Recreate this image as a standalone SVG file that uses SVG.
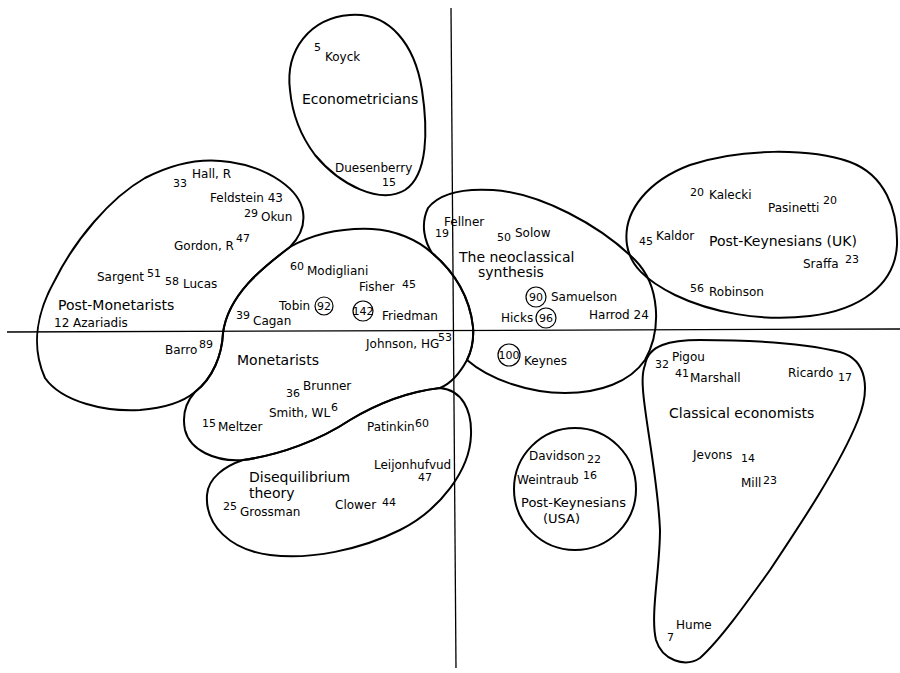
<svg xmlns="http://www.w3.org/2000/svg" width="900" height="673" viewBox="0 0 900 673">
<style>
.b{fill:none;stroke:#000;stroke-width:2;stroke-linejoin:round}
.ax{stroke:#000;stroke-width:1.3;fill:none}
text{font-family:"DejaVu Sans",sans-serif;fill:#000}
.n{font-size:12px}
.s{font-size:11px}
.t{font-size:14px}
.u{font-size:13px}
.c{fill:none;stroke:#000;stroke-width:1.2}
.cn{font-size:11px;text-anchor:middle}
</style>
<rect width="900" height="673" fill="#fff"/>
<g id="axes">
<line class="ax" x1="7" y1="332" x2="900" y2="329"/>
<line class="ax" x1="451" y1="8" x2="456" y2="668"/>
</g>
<g id="econometricians">
<path class="b" d="M290,90 C285,50 310,18 350,15 C390,12 415,45 422,90 C428,130 428,175 405,190 C380,205 340,185 315,155 C300,135 292,112 290,90 Z"/>
<text class="s" x="314" y="51">5</text>
<text class="n" x="325" y="61">Koyck</text>
<text class="t" x="302" y="104">Econometricians</text>
<text class="n" x="335" y="172">Duesenberry</text>
<text class="s" x="382" y="186">15</text>
</g>
<g id="post-monetarists">
<path class="b" d="M290,247 C300,237 305,225 303,212 C300,190 270,168 230,162 C200,157 170,165 145,178 C110,198 75,240 55,280 C38,310 30,345 45,378 C62,402 105,412 140,410 C165,408 183,402 195,392 C213,378 222,355 223,333 C228,295 262,268 290,247 Z"/>
<text class="s" x="173" y="187">33</text>
<text class="n" x="192" y="178">Hall, R</text>
<text class="n" x="210" y="202">Feldstein 43</text>
<text class="s" x="244" y="217">29</text>
<text class="n" x="261" y="221">Okun</text>
<text class="n" x="174" y="250">Gordon, R</text>
<text class="s" x="236" y="242">47</text>
<text class="n" x="97" y="281">Sargent</text>
<text class="s" x="147" y="277">51</text>
<text class="s" x="165" y="285">58</text>
<text class="n" x="183" y="288">Lucas</text>
<text class="t" x="58" y="310">Post-Monetarists</text>
<text class="n" x="54" y="327">12 Azariadis</text>
<text class="n" x="165" y="354">Barro</text>
<text class="s" x="199" y="348">89</text>
</g>
<g id="monetarists">
<path class="b" d="M290,247 C315,233 345,228 372,229 C395,230 418,240 432,253 C455,272 470,298 473,327 C474,340 472,350 467,360 C460,373 452,383 440,388 C405,392 375,405 350,420 C320,440 280,455 243,460 C215,462 190,450 185,430 C182,415 186,402 195,392 C213,378 222,355 223,333 C228,295 262,268 290,247 Z"/>
<text class="s" x="290" y="270">60</text>
<text class="n" x="307" y="275">Modigliani</text>
<text class="n" x="359" y="291">Fisher</text>
<text class="s" x="402" y="288">45</text>
<text class="n" x="279" y="310">Tobin</text>
<circle class="c" cx="324" cy="306" r="9"/>
<text class="cn" x="324" y="310">92</text>
<circle class="c" cx="363" cy="311" r="10"/>
<text class="cn" x="363" y="315">142</text>
<text class="n" x="382" y="320">Friedman</text>
<text class="s" x="236" y="319">39</text>
<text class="n" x="253" y="325">Cagan</text>
<text class="n" x="366" y="348">Johnson, HG</text>
<text class="s" x="438" y="341">53</text>
<text class="t" x="237" y="365">Monetarists</text>
<text class="s" x="286" y="397">36</text>
<text class="n" x="303" y="390">Brunner</text>
<text class="n" x="269" y="417">Smith, WL</text>
<text class="s" x="331" y="411">6</text>
<text class="s" x="202" y="427">15</text>
<text class="n" x="218" y="431">Meltzer</text>
</g>
<g id="disequilibrium-theory">
<path class="b" d="M440,388 C462,390 472,410 471,435 C470,470 440,510 400,530 C360,550 310,560 270,555 C230,550 205,525 207,495 C208,478 225,466 243,460 C280,455 320,440 350,420 C375,405 405,392 440,388 Z"/>
<text class="n" x="367" y="431">Patinkin</text>
<text class="s" x="415" y="427">60</text>
<text class="t" x="249" y="482">Disequilibrium</text>
<text class="t" x="249" y="498">theory</text>
<text class="s" x="223" y="510">25</text>
<text class="n" x="240" y="516">Grossman</text>
<text class="n" x="335" y="509">Clower</text>
<text class="s" x="382" y="506">44</text>
<text class="n" x="374" y="469">Leijonhufvud</text>
<text class="s" x="418" y="481">47</text>
</g>
<g id="neoclassical-synthesis">
<path class="b" d="M432,253 C425,242 420,225 428,208 C438,195 460,188 493,190 C540,193 600,225 635,260 C660,285 662,330 645,360 C630,382 600,393 565,393 C530,393 490,380 467,360 C472,350 474,340 473,327 C470,298 455,272 432,253 Z"/>
<text class="n" x="444" y="226">Fellner</text>
<text class="s" x="435" y="237">19</text>
<text class="s" x="497" y="241">50</text>
<text class="n" x="515" y="237">Solow</text>
<text class="t" x="459" y="262">The neoclassical</text>
<text class="t" x="478" y="277">synthesis</text>
<circle class="c" cx="536" cy="297" r="10"/>
<text class="cn" x="536" y="301">90</text>
<text class="n" x="551" y="301">Samuelson</text>
<text class="n" x="501" y="322">Hicks</text>
<circle class="c" cx="546" cy="318" r="10"/>
<text class="cn" x="546" y="322">96</text>
<text class="n" x="589" y="319">Harrod 24</text>
<circle class="c" cx="509" cy="355" r="11"/>
<text class="cn" x="509" y="359">100</text>
<text class="n" x="524" y="365">Keynes</text>
</g>
<g id="post-keynesians-uk">
<path class="b" d="M627,245 C622,210 650,180 690,165 C740,148 810,148 850,162 C885,175 898,210 897,245 C895,285 860,310 810,316 C760,322 710,312 675,295 C645,280 630,265 627,245 Z"/>
<text class="s" x="690" y="196">20</text>
<text class="n" x="709" y="199">Kalecki</text>
<text class="n" x="768" y="212">Pasinetti</text>
<text class="s" x="823" y="204">20</text>
<text class="s" x="639" y="245">45</text>
<text class="n" x="656" y="240">Kaldor</text>
<text class="t" x="709" y="246">Post-Keynesians (UK)</text>
<text class="n" x="803" y="268">Sraffa</text>
<text class="s" x="845" y="263">23</text>
<text class="s" x="690" y="292">56</text>
<text class="n" x="709" y="296">Robinson</text>
</g>
<g id="classical-economists">
<path class="b" d="M645,365 C648,345 670,340 700,340 C740,340 800,342 840,352 C868,360 870,390 858,420 C840,465 800,525 770,570 C745,605 720,640 700,658 C685,668 662,660 656,640 C650,615 660,570 660,530 C658,480 645,420 643,390 C642,378 643,370 645,365 Z"/>
<text class="s" x="655" y="368">32</text>
<text class="n" x="672" y="361">Pigou</text>
<text class="s" x="675" y="377">41</text>
<text class="n" x="690" y="382">Marshall</text>
<text class="n" x="788" y="377">Ricardo</text>
<text class="s" x="838" y="381">17</text>
<text class="t" x="669" y="418">Classical economists</text>
<text class="n" x="693" y="459">Jevons</text>
<text class="s" x="741" y="462">14</text>
<text class="n" x="741" y="487">Mill</text>
<text class="s" x="763" y="484">23</text>
<text class="n" x="676" y="629">Hume</text>
<text class="s" x="667" y="641">7</text>
</g>
<g id="post-keynesians-usa">
<circle class="b" cx="575" cy="489" r="61"/>
<text class="n" x="529" y="460">Davidson</text>
<text class="s" x="587" y="463">22</text>
<text class="n" x="517" y="484">Weintraub</text>
<text class="s" x="583" y="479">16</text>
<text class="u" x="521" y="507">Post-Keynesians</text>
<text class="u" x="543" y="523">(USA)</text>
</g>
</svg>
